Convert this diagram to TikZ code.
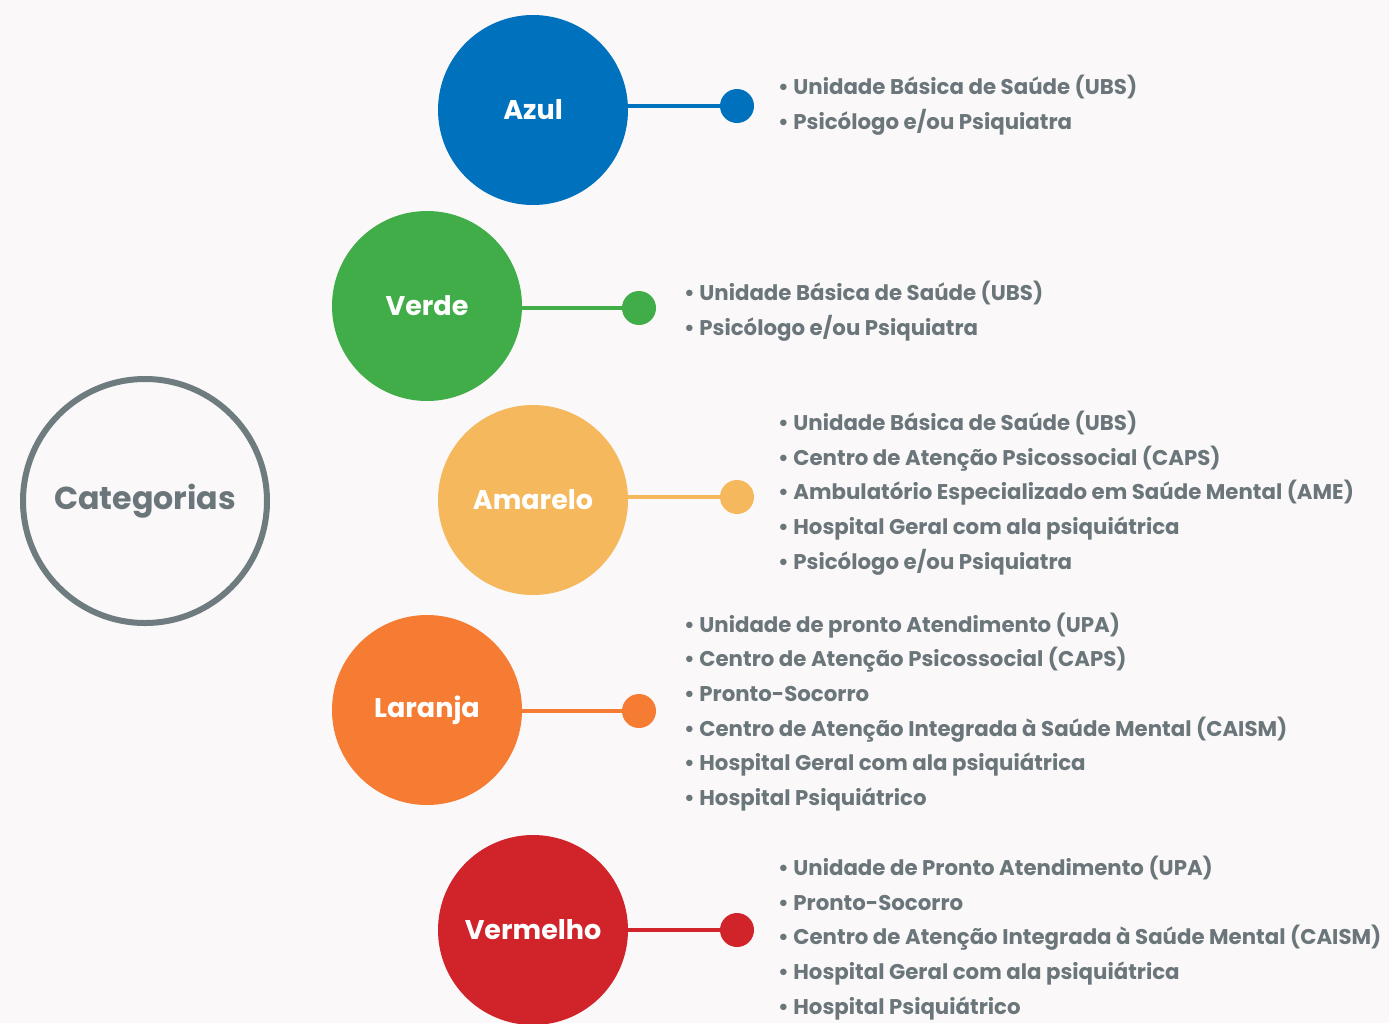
\documentclass[tikz,border=0pt]{standalone}
\usepackage{fontspec}
\setmainfont{Poppins}
\definecolor{bg}{HTML}{FAF8F9}
\definecolor{txtgray}{HTML}{6B767B}
\definecolor{ringgray}{HTML}{6E7B7F}
\definecolor{cazul}{HTML}{0071BC}
\definecolor{cverde}{HTML}{41AD49}
\definecolor{camarelo}{HTML}{F6B85C}
\definecolor{claranja}{HTML}{F67B33}
\definecolor{cvermelho}{HTML}{D0232A}
\tikzset{
  catcircle/.style={circle, fill=#1, minimum size=190pt, inner sep=0pt, text=white,
    font=\bfseries\fontsize{27}{30}\selectfont},
  catdot/.style={circle, fill=#1, minimum size=34pt, inner sep=0pt},
  catline/.style={draw=#1, line width=3.5pt},
  itemlist/.style={anchor=west, align=left, inner sep=0pt, text=txtgray,
    font=\bfseries\fontsize{21.3}{34.7}\selectfont},
}
\begin{document}
\begin{tikzpicture}[x=1pt,y=-1pt]
\fill[bg] (0,0) rectangle (1389,1023);
\useasboundingbox (0,0) rectangle (1389,1023);

\node[circle, draw=ringgray, line width=6pt, minimum size=244pt, inner sep=0pt,
  text=txtgray, font=\bfseries\fontsize{31.7}{36}\selectfont] (cat) at (145,501) {Categorias};

% Azul
\node[catcircle=cazul] (azul) at (533,110) {Azul};
\node[catdot=cazul] (azuldot) at (737,106) {};
\draw[catline=cazul] (azuldot) -- (azuldot -| azul.east);
\node[itemlist] (azultxt) at (778,105) {\textbullet\ Unidade Básica de Saúde (UBS)\\\textbullet\ Psicólogo e/ou Psiquiatra};

% Verde
\node[catcircle=cverde] (verde) at (427,306) {Verde};
\node[catdot=cverde] (verdedot) at (639,308) {};
\draw[catline=cverde] (verdedot) -- (verdedot -| verde.east);
\node[itemlist] (verdetxt) at (684,311) {\textbullet\ Unidade Básica de Saúde (UBS)\\\textbullet\ Psicólogo e/ou Psiquiatra};

% Amarelo
\node[catcircle=camarelo] (amarelo) at (533,500) {Amarelo};
\node[catdot=camarelo] (amarelodot) at (737,497) {};
\draw[catline=camarelo] (amarelodot) -- (amarelodot -| amarelo.east);
\node[itemlist] (amarelotxt) at (778,493) {\textbullet\ Unidade Básica de Saúde (UBS)\\\textbullet\ Centro de Atenção Psicossocial (CAPS)\\\textbullet\ Ambulatório Especializado em Saúde Mental (AME)\\\textbullet\ Hospital Geral com ala psiquiátrica\\\textbullet\ Psicólogo e/ou Psiquiatra};

% Laranja
\node[catcircle=claranja] (laranja) at (427,710) {Laranja};
\node[catdot=claranja] (laranjadot) at (639,711) {};
\draw[catline=claranja] (laranjadot) -- (laranjadot -| laranja.east);
\node[itemlist] (laranjatxt) at (684,712) {\textbullet\ Unidade de pronto Atendimento (UPA)\\\textbullet\ Centro de Atenção Psicossocial (CAPS)\\\textbullet\ Pronto-Socorro\\\textbullet\ Centro de Atenção Integrada à Saúde Mental (CAISM)\\\textbullet\ Hospital Geral com ala psiquiátrica\\\textbullet\ Hospital Psiquiátrico};

% Vermelho
\node[catcircle=cvermelho] (vermelho) at (533,930) {Vermelho};
\node[catdot=cvermelho] (vermelhodot) at (737,930) {};
\draw[catline=cvermelho] (vermelhodot) -- (vermelhodot -| vermelho.east);
\node[itemlist] (vermelhotxt) at (778,938) {\textbullet\ Unidade de Pronto Atendimento (UPA)\\\textbullet\ Pronto-Socorro\\\textbullet\ Centro de Atenção Integrada à Saúde Mental (CAISM)\\\textbullet\ Hospital Geral com ala psiquiátrica\\\textbullet\ Hospital Psiquiátrico};
\end{tikzpicture}
\end{document}
